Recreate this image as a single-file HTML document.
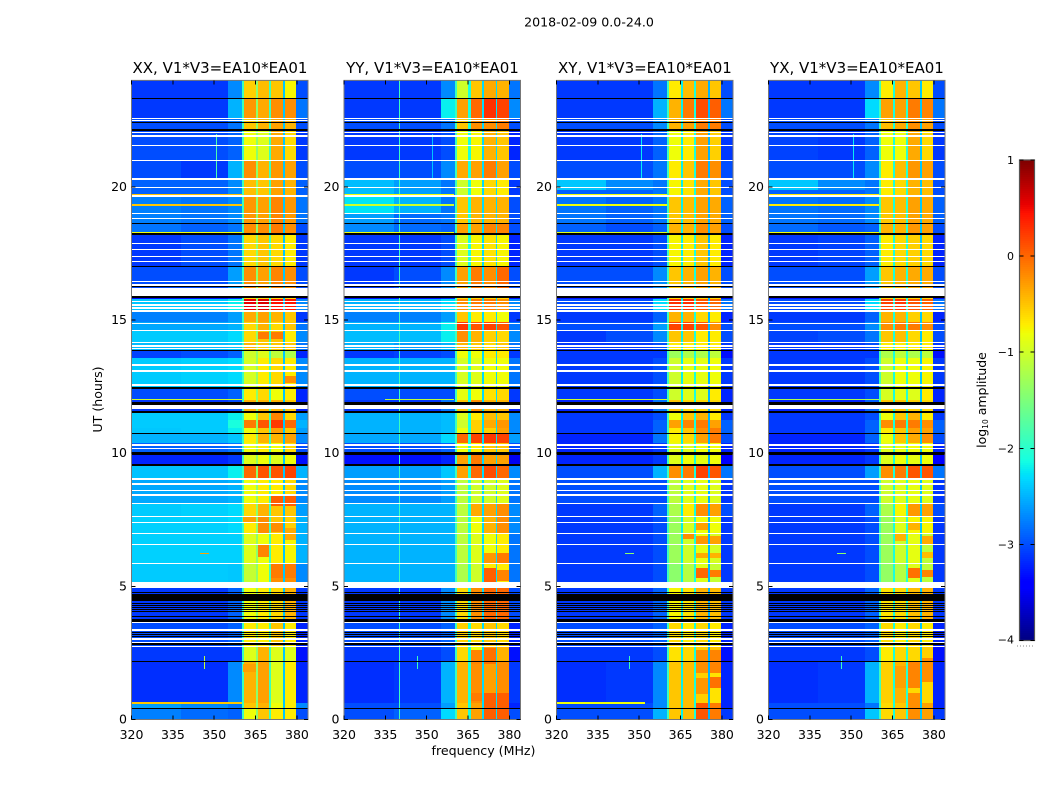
<!DOCTYPE html>
<html><head><meta charset="utf-8"><title>2018-02-09 amplitude spectrogram</title>
<style>html,body{margin:0;padding:0;background:#fff}svg{display:block}text{font-family:"DejaVu Sans","Liberation Sans",sans-serif;fill:#000}</style></head>
<body>
<svg id="fig" width="1050" height="800" viewBox="0 0 1050 800" xmlns="http://www.w3.org/2000/svg">
<rect width="1050" height="800" fill="#fff"/>
<text x="589" y="26.5" font-size="12.6" text-anchor="middle">2018-02-09 0.0-24.0</text>
<text x="483.5" y="755" font-size="12.6" text-anchor="middle">frequency (MHz)</text>
<text x="0" y="0" font-size="12.6" text-anchor="middle" transform="translate(102,399.5) rotate(-90)">UT (hours)</text>
<text x="0" y="0" font-size="12.5" text-anchor="middle" transform="translate(986,400) rotate(-90)">log<tspan font-size="7.5" dy="2">10</tspan><tspan dy="-2"> amplitude</tspan></text>
</svg>
<script>
// ---- data ----
const panelNames = ["XX","YY","XY","YX"];
const baselineLabel = "V1*V3=EA10*EA01";
const freqTicks = [320,335,350,365,380];
const utTicks = [0,5,10,15,20];
const cbarTicks = [-4,-3,-2,-1,0,1];
const cbarTickLabels = ["\u22124","\u22123","\u22122","\u22121","0","1"];
// frequency columns (MHz): L, M, shoulder, band1-4, right
const freqEdges = [[320,338],[338,355],[355,360.4],[360.4,365.1],[365.9,370],[370.7,375],[375.6,379.8],[379.8,384]];
const gapFreqs = [[365.1,365.9],[370,370.7],[375,375.6],[360.2,360.8]];
const utEdges = [24,23.3,22.58,22.13,21,20.3,19.65,18.6,18.23,17.03,16.22,15.9,15.79,15.34,14.93,14.63,14.17,13.87,13.57,12.44,12,11.51,11.25,10.95,10.72,10.38,9.93,9.52,9.03,8.13,7.64,7,5.88,5.16,4.98,3.66,2.72,2.16,0.62,0.43,0];
const ampXX = [
[-3.1,-3.1,-2.7,-.55,-.45,-.5,-.75,-3],[-3.1,-3.1,-2.5,-.25,-.35,-.2,-.2,-2.8],[-3,-3,-2.8,-.5,-.4,-.3,-.4,-3],[-3,-3,-2.9,-.8,-.9,-.35,-.6,-3.1],
[-3,-3.1,-2.5,-.2,-.4,-.25,-.3,-3],[-2.9,-2.9,-2.7,-.45,-.5,-.3,-.4,-2.9],[-2.75,-2.8,-2.7,-.25,-.3,-.15,-.25,-2.8],[-2.8,-2.9,-2.8,-.2,-.2,-.1,-.2,-3],
[-3.1,-3,-2.8,-.6,-.5,-.6,-.7,-3.1],[-3,-3,-2.6,-.2,-.3,-.15,-.2,-3],null,[-3.3,-3.3,-3.2,-.6,-.6,-.6,-.6,-3.3],
[-2.4,-2.4,-2.2,.55,.6,.45,.45,-2.7],[-2.75,-2.75,-2.6,-.35,-.3,-.4,-.5,-3.1],[-2.55,-2.55,-2.5,-.6,-.4,-.6,-.5,-2.8],[-2.38,-2.38,-2.3,-.6,-.5,-.5,-.7,-2.7],
[-2.45,-2.45,-2.4,-.4,-.5,-.5,-.5,-2.8],[-3.05,-3,-2.9,-1,-.9,-1.1,-1.2,-3.2],[-2.38,-2.35,-2.3,-.95,-.7,-.6,-.7,-2.7],[-3,-3,-2.9,-.7,-.6,-.8,-.7,-3.2],
[-3.1,-3.1,-3,-.4,-.4,-.4,-.5,-3.2],[-2.38,-2.38,-2.2,-.8,-.5,-.15,-.6,-2.6],[-2.38,-2.38,-2.1,-.1,.1,.25,0,-2.5],[-2.4,-2.38,-2.2,-.8,-.5,-.3,-.5,-2.6],
[-2.5,-2.5,-2.4,-.7,-.4,-.4,-.3,-2.7],[-2.9,-2.9,-2.8,-.8,-.7,-.8,-.6,-3],[-3.2,-3.2,-3.1,-.9,-.8,-.9,-.8,-3.3],[-2.42,-2.42,-2.2,0,.1,.1,.2,-2.5],
[-2.55,-2.55,-2.5,-.8,-.7,-.7,-.6,-2.7],[-2.38,-2.35,-2.3,-.6,-.4,-.5,-.5,-2.6],[-2.35,-2.35,-2.3,-.7,-.2,-.5,-.55,-2.5],[-2.35,-2.35,-2.35,-.9,-.8,-.7,-.75,-2.5],
[-2.38,-2.38,-2.4,-1.05,-.8,-.2,-.2,-2.7],null,[-3.1,-3.1,-2.9,-.8,-.7,-.6,-.4,-3.1],[-3,-3,-2.9,-.7,-.7,-.5,-.7,-3.2],
[-3.1,-3.1,-3.1,-.9,-.4,-.9,-.9,-3.3],[-3.15,-3.15,-2.7,-.4,-.3,-.9,-.7,-3.2],[-2.6,-2.7,-2.8,-.5,-.4,-.8,-.7,-2.7],[-2.75,-2.85,-2.9,-.8,-.5,-.7,-.7,-3]];
const ampYY = [
[-3.1,-3.1,-2.7,-1,-.5,-.35,-.4,-2.8],[-3.1,-3.1,-2.2,-.3,0,.3,.2,-2.7],[-3,-3,-2.8,-.5,-.2,-.2,-.1,-3],[-3.1,-3.1,-3,-.8,-.75,-.4,-.5,-3.2],
[-3,-3,-2.7,-.35,-.3,-.1,-.3,-3],[-2.45,-2.6,-2.8,-1,-.8,-.6,-.7,-3.1],[-2.7,-2.85,-2.8,-.5,-.4,-.4,-.4,-3],[-2.7,-2.85,-2.9,-.3,-.3,-.15,-.15,-3],
[-3.1,-3.1,-3,-.9,-.75,-.65,-.75,-3.2],[-3.1,-3,-2.7,-.3,-.1,-.2,0,-3],null,[-3.3,-3.3,-3.2,-.6,-.6,-.6,-.6,-3.3],
[-2.5,-2.5,-2.3,-.2,-.1,-.1,-.2,-2.7],[-2.75,-2.75,-2.6,-.5,-.7,-.7,-.8,-3.1],[-2.5,-2.5,-2.2,.25,.1,.2,.1,-2.8],[-2.45,-2.45,-2.2,-.2,-.4,-.55,-.6,-2.7],
[-2.5,-2.6,-2.5,-.4,-.5,-.6,-.5,-2.8],[-3.1,-3.05,-3,-.8,-.8,-.7,-.7,-3.1],[-2.5,-2.5,-2.5,-.95,-.9,-.8,-.8,-2.8],[-3,-3,-3,-.85,-.8,-.65,-.6,-3.1],
[-3.1,-3.1,-2.8,-.5,-.2,-.4,-.4,-3.2],[-2.5,-2.5,-2.45,-.9,-.7,-.45,-.5,-2.7],[-2.5,-2.5,-2.45,-1,-.55,-.35,-.25,-2.7],[-2.5,-2.5,-2.45,-.8,-.55,-.55,-.3,-2.7],
[-2.55,-2.55,-2.3,0,.2,.25,.2,-2.6],[-3,-3,-2.9,-.8,-.7,-.5,-.5,-3],[-3.3,-3.3,-3.2,-.3,-.1,-.3,-.3,-3.5],[-2.6,-2.6,-2.4,-.3,0,.15,0,-2.7],
[-2.7,-2.7,-2.6,-1.1,-1,-1,-.9,-2.8],[-2.5,-2.5,-2.5,-1.1,-.35,-.3,-.2,-2.7],[-2.5,-2.5,-2.5,-1.1,-.8,-.4,-.2,-2.7],[-2.5,-2.5,-2.5,-1.1,-.9,-.8,-.7,-2.8],
[-2.5,-2.5,-2.5,-1.2,-1,-.7,-.7,-2.8],null,[-3.1,-3.1,-2.7,-.6,-.2,0,0,-3],[-3,-3,-2.9,-.55,-.6,-.5,-.6,-3.2],
[-3.1,-3.1,-3,-.6,-.8,-.3,-.4,-3.3],[-3.15,-3.1,-2.5,-.4,-.2,-.3,-.2,-3.1],[-3,-3,-2.6,-.5,-.3,-.1,-.1,-3.2],[-3,-2.9,-2.3,-.5,-.3,0,0,-3]];
const ampXY = [
[-3.1,-3.1,-2.8,-.7,-.45,-.35,-.5,-3],[-3.1,-3.1,-2.5,-.4,-.1,.15,.05,-2.8],[-3,-3,-2.7,-.4,-.3,-.1,-.1,-3],[-3.1,-3.1,-2.9,-.8,-.7,-.3,-.55,-3.1],
[-3,-3,-2.8,-.7,-.5,-.1,-.2,-3],[-2.9,-2.9,-2.8,-.75,-.65,-.35,-.5,-3],[-2.8,-2.9,-2.8,-.5,-.45,-.3,-.35,-2.9],[-2.9,-3,-2.9,-.4,-.4,-.2,-.3,-3],
[-3.1,-3.1,-3,-.75,-.7,-.5,-.7,-3.2],[-3,-3,-2.7,-.5,-.4,-.3,-.4,-3],null,[-3.3,-3.3,-3.2,-.6,-.6,-.6,-.6,-3.3],
[-3,-3,-2.3,.3,.3,.1,0,-2.8],[-3.1,-3.1,-2.9,-.4,-.4,-.6,-.7,-3.2],[-3,-3,-2.6,.2,.2,.1,-.2,-3],[-3.1,-3,-2.7,-.5,-.5,-.7,-.7,-3],
[-3.1,-3.1,-3,-.7,-.7,-.7,-.7,-3.1],[-3.1,-3.1,-3.1,-1.3,-1.2,-1.2,-1.1,-3.3],[-3.1,-3.1,-3,-1,-.85,-.85,-.8,-3.1],[-3.1,-3.1,-3,-1,-.9,-.9,-.7,-3.2],
[-3.2,-3.2,-2.8,-.5,-.6,-.6,-.6,-3.2],[-3.1,-3.1,-3,-.8,-.5,-.4,-.7,-3.1],[-3.1,-3.1,-2.9,-.3,-.15,-.1,-.3,-2.9],[-3.1,-3.1,-2.9,-.7,-.5,-.2,-.1,-2.9],
[-3.2,-3.2,-2.8,-.75,-.6,-.3,-.1,-3],[-3.2,-3.2,-3.1,-.9,-.9,-.8,-.8,-3.2],[-3.2,-3.2,-3.1,-.9,-.8,-.85,-.8,-3.4],[-3,-3,-2.5,-.2,-.1,.2,.1,-2.8],
[-3,-3,-3,-1.1,-.9,-.85,-.9,-3.1],[-3.1,-3.1,-2.9,-1.2,-.7,-.2,-.3,-3],[-3.1,-3.1,-3,-1.3,-.95,-.8,-.8,-3.1],[-3.1,-3.1,-3,-1.3,-1,-.85,-.95,-3.1],
[-3.1,-3.1,-3,-1.4,-1.15,-.9,-1.05,-3.1],null,[-3.1,-3.1,-2.9,-.75,-.65,-.4,-.45,-3.1],[-3,-3,-2.9,-.6,-.7,-.6,-.7,-3.2],
[-3.1,-3.1,-3,-.65,-.6,-.55,-.5,-3.3],[-3.15,-3.1,-2.7,-.5,-.45,-.55,-.65,-3.2],[-3,-3,-2.7,-.5,-.45,.1,-.1,-3.2],[-3,-3,-2.5,-.5,-.45,.1,-.1,-3.1]];
const ampYX = [
[-3.1,-3.1,-2.7,-.7,-.4,-.5,-.7,-3],[-3.1,-3.1,-2.3,-.3,-.3,-.1,-.15,-2.8],[-3,-3,-2.8,-.45,-.35,-.2,-.3,-3],[-3.05,-3.1,-2.9,-.8,-.8,-.35,-.6,-3.1],
[-3,-3,-2.7,-.7,-.45,-.25,-.3,-3],[-2.9,-2.9,-2.8,-.7,-.6,-.4,-.45,-3],[-2.8,-2.85,-2.7,-.5,-.45,-.3,-.35,-2.9],[-2.85,-2.95,-2.9,-.4,-.4,-.25,-.3,-3],
[-3.1,-3.05,-2.9,-.7,-.6,-.55,-.6,-3.2],[-3,-3,-2.6,-.5,-.4,-.35,-.35,-3],null,[-3.3,-3.3,-3.2,-.6,-.6,-.6,-.6,-3.3],
[-3,-3,-2.3,.2,.25,.1,.05,-2.8],[-3.1,-3.1,-2.9,-.4,-.4,-.55,-.6,-3.2],[-3,-3,-2.7,-.2,-.1,-.1,-.2,-3],[-3.05,-3,-2.8,-.5,-.45,-.6,-.7,-3],
[-3.1,-3.1,-3,-.7,-.7,-.7,-.7,-3.1],[-3.1,-3.1,-3.1,-1.2,-1.1,-1.2,-1.1,-3.3],[-3.1,-3.1,-3,-1,-.8,-.8,-.75,-3.1],[-3.1,-3.1,-3,-.95,-.85,-.9,-.7,-3.2],
[-3.2,-3.2,-2.9,-.5,-.5,-.55,-.6,-3.2],[-3.1,-3.1,-3,-.8,-.5,-.4,-.7,-3.1],[-3.1,-3.1,-2.9,-.2,-.1,-.1,-.2,-2.9],[-3.1,-3.1,-2.9,-.7,-.5,-.3,-.3,-2.9],
[-3.2,-3.2,-2.9,-.8,-.5,-.35,-.2,-3],[-3.2,-3.2,-3.1,-.9,-.85,-.8,-.8,-3.2],[-3.2,-3.2,-3.1,-.9,-.8,-.85,-.8,-3.4],[-3,-3,-2.6,-.2,-.1,.1,.1,-2.8],
[-3,-3,-3,-1,-.9,-.85,-.9,-3.1],[-3.1,-3.1,-2.9,-1.2,-.75,-.25,-.3,-3],[-3.1,-3.1,-3,-1.3,-.9,-.75,-.75,-3.1],[-3.1,-3.1,-3,-1.3,-1,-.85,-1.1,-3.1],
[-3.1,-3.1,-3,-1.35,-1.15,-.9,-1.1,-3.1],null,[-3.1,-3.1,-2.9,-.65,-.6,-.45,-.4,-3.1],[-3,-3,-2.9,-.6,-.7,-.6,-.7,-3.2],
[-3.1,-3.1,-3,-.7,-.6,-.6,-.55,-3.3],[-3.15,-3.1,-2.5,-.55,-.4,-.6,-.6,-3.2],[-3,-3,-2.8,-.6,-.5,-.2,-.3,-3.2],[-3,-3,-2.4,-.6,-.5,-.2,-.3,-3.1]];
const panelAmps = [ampXX,ampYY,ampXY,ampYX];
// local bright regions: [ut top, ut bottom, column index, logAmp]
const patchXX = [[14.55,14.3,4,-.1],[14.55,14.3,5,-.1],[12.9,12.65,6,-.2],[8.4,8,5,.05],[8.4,8,6,.05],[7.6,7.4,3,-.3],[7.4,7.05,5,-.2],[7.2,6.75,6,-.35],[6.55,6.1,4,-.15],[5.87,5.3,5,-.1],[5.87,5.3,6,-.1],[2.1,1.8,3,-.3]];
const patchYY = [[19.65,19,0,-2.25],[19.65,19,1,-2.5],[19,18.6,0,-2.6],[6.25,5.87,6,-.1],[6.25,5.87,5,-.25],[5.7,5.15,5,.05],[5.6,5.2,6,-.15],[2.7,2.1,5,-.05],[2.6,2.1,4,-.15],[1,0,5,.05],[1,0,6,.05],[1,.7,4,-.1]];
const patchXY = [[20.26,19.9,0,-2.4],[20.26,19.9,1,-2.7],[7,6.78,4,-.2],[7.4,7.1,5,-.3],[6.9,6.6,5,-.25],[6.9,6.6,6,-.3],[6.25,6.05,5,-.35],[6.25,6.05,6,-.4],[5.7,5.3,5,0],[5.6,5.35,6,-.1],[2.6,1.75,5,-.2],[2.6,1.75,6,-.15],[1.6,1.2,6,-.05],[1.55,.95,5,-.25]];
const patchYX = [[20.26,19.9,0,-2.4],[20.26,19.9,1,-2.7],[7.4,7.1,5,-.4],[7,6.7,4,-.4],[6.9,6.6,6,-.35],[6.3,6.05,6,-.45],[5.7,5.3,5,-.05],[5.6,5.35,6,-.15],[2.2,1.2,5,-.15],[2.3,1.4,6,-.2],[2,1.2,4,-.3],[1,.1,5,-.2]];
const panelPatches = [patchXX,patchYY,patchXY,patchYX];
// channel gaps level per panel: gap1, gap2, gap3, band-edge
const gapLevels = [[-1.4,-1.9,-2.4,-1.9],[-2.1,-2.3,-2.3,-1.9],[-2.2,-2.1,-2.5,-1.9],[-2.1,-2,-2.4,-1.9]];
// horizontal narrow features: [ut, logAmp, fmin, fmax]
const rfiXX = [[19.70,-.5,320,360],[19.32,-.5,320,360],[18.3,-.8,320,360],[19.97,-1,320,360],[12.03,-1,320,360],[0.62,-.5,320,360],[6.24,-.3,345,348]];
const rfiYY = [[19.70,-.8,320,360],[19.32,-1,320,360],[18.3,-.8,320,360],[12.03,-1.1,335,360]];
const rfiXY = [[19.70,-.8,320,360],[19.32,-.8,320,360],[18.3,-.9,320,360],[12.03,-1,320,360],[9.03,-.8,320,360],[6.24,-1.4,345,348],[.62,-.8,320,352]];
const rfiYX = [[19.70,-.7,320,360],[19.32,-.7,320,360],[18.3,-.8,320,360],[12.03,-1.2,320,360],[6.24,-1.4,345,348]];
const panelRfi = [rfiXX,rfiYY,rfiXY,rfiYX];
// vertical narrow features: [freq, logAmp, utmin, utmax]
const vertXX = [[351,-1.8,20.3,22],[346.5,-1.1,1.9,2.4]];
const vertYY = [[340,-1.9,0,24],[352,-2.4,20.3,22],[346.5,-1.9,1.9,2.4]];
const vertXY = [[351,-2.2,20.3,22],[346.5,-1.9,1.9,2.4]];
const vertYX = [[351,-2.2,20.3,22],[346.5,-1.9,1.9,2.4]];
const panelVert = [vertXX,vertYY,vertXY,vertYX];
// flagged (white) records: [ut, duration hours]
const flagged = [[22.58,.05],[22.5,.05],[22.04,.05],[21.91,.05],[21.56,.05],[21,.05],[20.29,.08],[19.98,.05],[19.66,.05],[19.01,.05],[18.82,.05],[17.88,.05],[17.66,.05],[17.38,.05],[17.21,.05],[16.44,.05],[16.32,.05],[16.07,.3],
[15.69,.05],[15.57,.05],[15.45,.05],[15.34,.05],[14.86,.05],[14.62,.05],[14.15,.05],[14.03,.05],[13.94,.05],[13.31,.05],[13.09,.05],[12.56,.05],[11.77,.05],[11.7,.05],[10.31,.05],[10.18,.05],[9.03,.05],[8.84,.09],[8.59,.05],[8.43,.05],[8.12,.05],[7.62,.05],[7.41,.05],[6.99,.05],[6.58,.05],[5.87,.05],[5.06,.21],[3.65,.05],[3.36,.05],[3.02,.05],[2.9,.05],[2.73,.05]];
// dropouts (black): [ut, duration hours]
const dropouts = [[23.33,.04],[22.43,.04],[22.14,.05],[18.63,.05],[18.23,.06],[17,.05],[16.28,.05],[15.87,.05],[13.86,.05],[12.45,.08],[11.87,.11],[11.54,.08],[10.73,.05],[10,.11],[9.55,.09],[4.78,.05],[4.62,.17],[4.49,.05],[4.36,.05],[4.29,.04],[4.21,.05],[4.14,.04],[4.05,.05],[3.86,.05],[3.77,.04],[3.7,.04],[3.26,.04],[3.2,.04],[3.11,.05],[2.84,.05],[2.17,.04],[.42,.05]];

// ---- scales ----
const NS = "http://www.w3.org/2000/svg";
const svg = document.getElementById("fig");
const panelLeft = [131.5,344,556.5,768.5];
const panelWidth = 176.5;
const xScale = (p,f) => panelLeft[p] + (f-320)*panelWidth/64;
const yScale = u => 719.5 - u*26.63;
const seg = (a,b,v) => { const t=(v-a)/(b-a); return Math.max(0,Math.min(1,t)); };
function jet(v){
  const t=(v+4)/5;
  const r=t<.35?0:t<.66?seg(.35,.66,t):t<.89?1:1-.5*seg(.89,1,t);
  const g=t<.125?0:t<.375?seg(.125,.375,t):t<.64?1:t<.91?1-seg(.64,.91,t):0;
  const b=t<.11?.5+.5*seg(0,.11,t):t<.34?1:t<.65?1-seg(.34,.65,t):0;
  return `rgb(${Math.round(r*255)},${Math.round(g*255)},${Math.round(b*255)})`;
}
function setAll(el,o){ for(const k in o) el.setAttribute(k,o[k]); }
function band(g,p,f0,f1,u0,u1,fill,name){
  const x0=Math.round(xScale(p,f0)),x1=Math.round(xScale(p,f1));
  const y0=Math.round(yScale(u1)),y1=Math.max(y0+1,Math.round(yScale(u0)));
  const r=document.createElementNS(NS,"rect");
  
  
  setAll(r,{x:x0,y:y0,width:Math.max(1,x1-x0),height:y1-y0,fill:fill,"shape-rendering":"crispEdges"});
  g.appendChild(r);
}
function label(parent,x,y,txt,anchor,size,name){
  const t=document.createElementNS(NS,"text");
  
  
  setAll(t,{x:x,y:y,"text-anchor":anchor,"font-size":size});
  t.textContent=txt;
  parent.appendChild(t);
}
function tick(parent,x1,y1,x2,y2,name){
  const l=document.createElementNS(NS,"line");
  
  
  setAll(l,{x1:x1,y1:y1,x2:x2,y2:y2,stroke:"#000","stroke-width":1,"shape-rendering":"crispEdges"});
  parent.appendChild(l);
}
// ---- panels ----
panelNames.forEach((nm,p)=>{
  const g=document.createElementNS(NS,"g");
  
  
  svg.appendChild(g);
  panelAmps[p].forEach((row,i)=>{
    if(!row) return;
    const u1=utEdges[i],u0=utEdges[i+1];
    row.forEach((v,c)=>band(g,p,freqEdges[c][0],freqEdges[c][1],u0,u1,jet(v),'heatmap-cell'));
    gapFreqs.forEach((gf,k)=>band(g,p,gf[0],gf[1],u0,u1,jet(gapLevels[p][k]),'channel-gap'));
  });
  panelPatches[p].forEach(d=>band(g,p,freqEdges[d[2]][0],freqEdges[d[2]][1],d[1],d[0],jet(d[3]),'heatmap-patch'));
  panelVert[p].forEach(d=>{
    const hw=.18;
    band(g,p,d[0]-hw,d[0]+hw,d[2],d[3],jet(d[1]),'vertical-rfi');
  });
  panelRfi[p].forEach(d=>band(g,p,d[2],d[3],d[0]-.02,d[0]+.02,jet(d[1]),'horizontal-rfi'));
  dropouts.forEach(d=>band(g,p,320,384,d[0]-d[1]/2,d[0]+d[1]/2,"#000",'dropout-line'));
  flagged.forEach(d=>band(g,p,320,384,d[0]-d[1]/2,d[0]+d[1]/2,"#fff",'flagged-line'));
  const fr=document.createElementNS(NS,"rect");
  
  
  setAll(fr,{x:panelLeft[p],y:yScale(24),width:panelWidth,height:yScale(0)-yScale(24),fill:"none",stroke:"#777","stroke-width":1});
  g.appendChild(fr);
  freqTicks.forEach(f=>{
    const x=xScale(p,f);
    tick(g,x,yScale(0),x,yScale(0)-4,'x-tick');
    tick(g,x,yScale(24),x,yScale(24)+4,'x-tick');
    label(g,x,739,String(f),"middle",12.5,'x-tick-label');
  });
  utTicks.forEach(u=>{
    const y=yScale(u);
    tick(g,panelLeft[p],y,panelLeft[p]+4,y,'y-tick');
    tick(g,panelLeft[p]+panelWidth,y,panelLeft[p]+panelWidth-4,y,'y-tick');
    label(g,panelLeft[p]-4.5,y+4,String(u),"end",12.5,'y-tick-label');
  });
  label(g,panelLeft[p]+panelWidth/2+.2,73,nm+", "+baselineLabel,"middle",15,'panel-title');
});
// ---- colorbar ----
const cbarLeft=1019.5,cbarWidth=15,cbarTop=160,cbarBottom=640.5;
const cbarY=v=>cbarBottom-(v+4)*(cbarBottom-cbarTop)/5;
const cb=document.createElementNS(NS,"g");


svg.appendChild(cb);
for(let k=0;k<240;k++){
  const v=-4+k*5/240;
  const r=document.createElementNS(NS,"rect");
  
  
  setAll(r,{x:cbarLeft,y:Math.round(cbarY(v+5/240)),width:cbarWidth,height:3,fill:jet(v+2.5/240),"shape-rendering":"crispEdges"});
  cb.appendChild(r);
}
const cf=document.createElementNS(NS,"rect");


setAll(cf,{x:cbarLeft,y:cbarTop,width:cbarWidth,height:cbarBottom-cbarTop,fill:"none",stroke:"#555","stroke-width":1.2});
cb.appendChild(cf);
cbarTicks.forEach((v,i)=>{
  const y=cbarY(v);
  tick(cb,cbarLeft,y,cbarLeft+4,y,'colorbar-tick');
  tick(cb,cbarLeft+cbarWidth,y,cbarLeft+cbarWidth-4,y,'colorbar-tick');
  label(cb,1014,y+(i===0?3:4),cbarTickLabels[i],"end",11,'colorbar-tick-label');
});
const dots=document.createElementNS(NS,"line");


setAll(dots,{x1:1017,y1:646,x2:1035,y2:646,stroke:"#888","stroke-width":1,"stroke-dasharray":"1 2"});
cb.appendChild(dots);
</script>
</body></html>
